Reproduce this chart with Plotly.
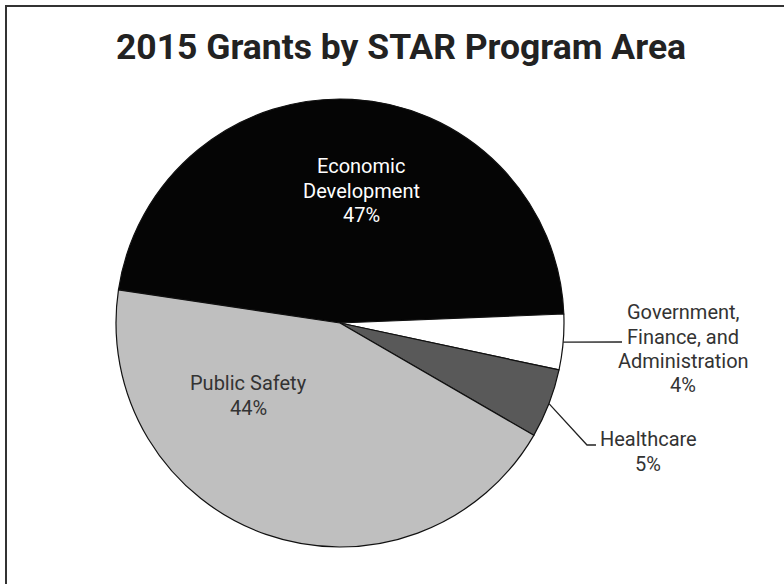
import math
import plotly.graph_objects as go

# Program areas, their shares of 2015 grants, and fills
categories = [
    "Economic Development",
    "Government, Finance, and Administration",
    "Healthcare",
    "Public Safety",
]
label_lines = [
    ["Economic", "Development"],
    ["Government,", "Finance, and", "Administration"],
    ["Healthcare"],
    ["Public Safety"],
]
shares = [47, 4, 5, 44]
colors = ["#050505", "#ffffff", "#595959", "#bfbfbf"]

# Canvas and pie geometry (pixels)
W, H = 784, 584
CX, CY, R = 340, 323, 224
ROTATION = -81.5  # first slice starts just above 9 o'clock, runs clockwise
LABEL_SIZE = 20
LINE_GAP = 24.3


def paper(x, y):
    return x / W, 1 - y / H


fig = go.Figure(
    go.Pie(
        labels=categories,
        values=shares,
        sort=False,
        direction="clockwise",
        rotation=ROTATION,
        marker=dict(colors=colors, line=dict(color="#111111", width=1.2)),
        textinfo="none",
        hoverinfo="label+percent",
        domain=dict(x=[(CX - R) / W, (CX + R) / W], y=[1 - (CY + R) / H, 1 - (CY - R) / H]),
        showlegend=False,
    )
)

# Label placement: centre x, first baseline y, text colour
label_pos = [
    (361, 172, "#ffffff"),
    (683, 318, "#333333"),
    (648, 445, "#333333"),
    (248, 389, "#333333"),
]

annotations = []
for i, (lx, base, col) in enumerate(label_pos):
    lines = label_lines[i] + [f"{shares[i]}%"]
    for k, line in enumerate(lines):
        y_mid = base + k * LINE_GAP - 0.28 * LABEL_SIZE
        ax_, ay_ = paper(lx, y_mid)
        annotations.append(
            dict(
                x=ax_, y=ay_, xref="paper", yref="paper",
                xanchor="center", yanchor="middle",
                text=line, showarrow=False,
                font=dict(family="Roboto", size=LABEL_SIZE, color=col),
            )
        )

# Mid-angle of each slice (math convention, degrees)
total = sum(shares)
start = 90 - ROTATION
mids = []
cum = 0
for v in shares:
    mids.append(start - 360 * (cum + v / 2) / total)
    cum += v

# Leader lines for the two small outside-labelled slices
elbows = {1: [(622, 342)], 2: [(587, 445), (596, 445)]}
shapes = []
for i, pts in elbows.items():
    a = math.radians(mids[i])
    sx, sy = CX + R * math.cos(a), CY - R * math.sin(a)
    path_pts = [paper(sx, sy)] + [paper(px, py) for px, py in pts]
    d = "M " + " L ".join(f"{x:.5f},{y:.5f}" for x, y in path_pts)
    shapes.append(dict(type="path", path=d, xref="paper", yref="paper",
                       line=dict(color="#222222", width=1.3)))

# Frame running off the right and bottom edges
shapes.append(dict(type="rect", xref="paper", yref="paper",
                   x0=6 / W, x1=1.05, y0=-0.05, y1=1 - 6 / H,
                   line=dict(color="#333333", width=2), fillcolor="rgba(0,0,0,0)"))

fig.update_layout(
    width=W, height=H,
    margin=dict(l=0, r=0, t=0, b=0),
    paper_bgcolor="white",
    plot_bgcolor="white",
    title=dict(
        text="2015 Grants by STAR Program Area",
        x=401 / W, xanchor="center", xref="paper",
        y=1 - 47 / H, yanchor="middle", yref="container",
        font=dict(family="Roboto", size=35.5, color="#222222", weight="bold"),
    ),
    annotations=annotations,
    shapes=shapes,
)

fig.write_html("out.html")
